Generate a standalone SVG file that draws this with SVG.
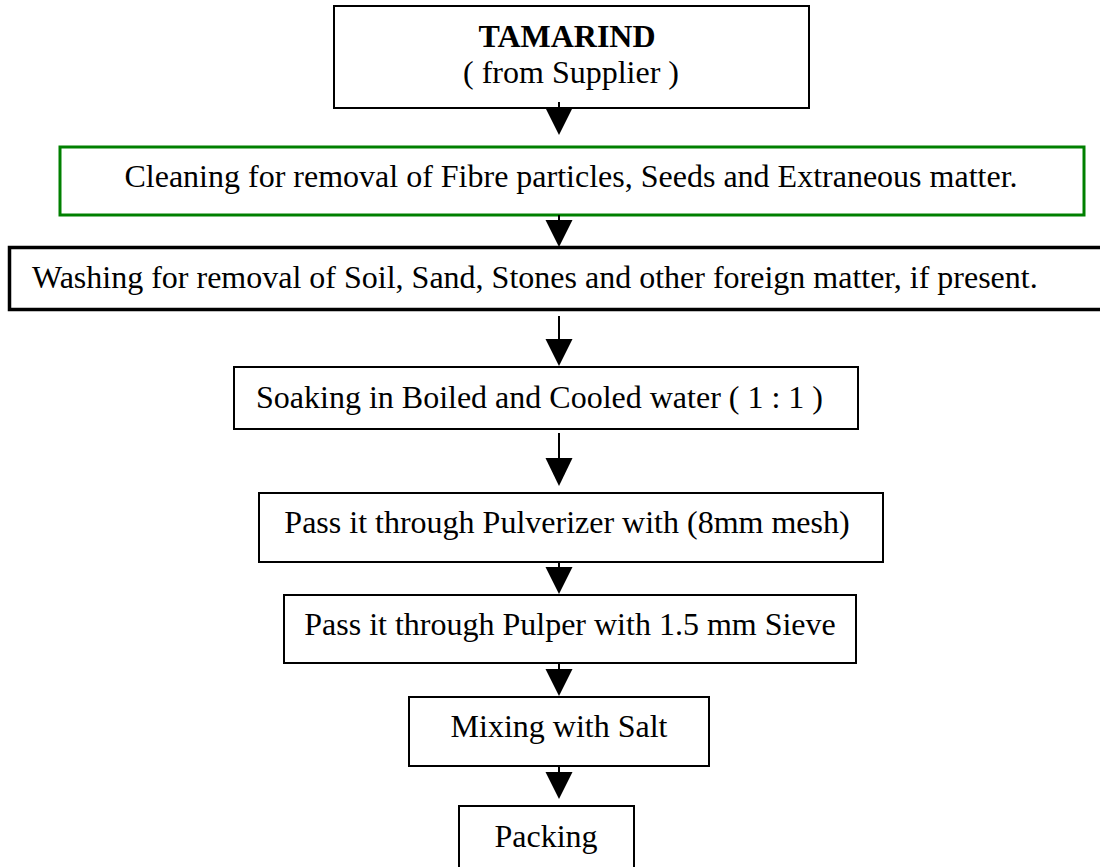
<svg xmlns="http://www.w3.org/2000/svg" width="1100" height="867" viewBox="0 0 1100 867">
<style>
.box{fill:#fff;stroke:#000;stroke-width:2}
.t{font-family:"Liberation Serif","Times New Roman",serif;font-size:32px;fill:#000}
.c{text-anchor:middle}
.ln{stroke:#000;stroke-width:2;fill:none}
.hd{fill:#000}
</style>
<rect width="1100" height="867" fill="#fff"/>
<g id="n1">
<rect class="box" x="334" y="6" width="475" height="102"/>
<text class="t c" x="567" y="47" font-weight="bold">TAMARIND</text>
<text class="t c" x="571" y="83">( from Supplier )</text>
</g>
<g id="n2">
<rect class="box" x="60" y="147" width="1024" height="68" style="stroke:#008000;stroke-width:3"/>
<text class="t c" x="571" y="187">Cleaning for removal of Fibre particles, Seeds and Extraneous matter.</text>
</g>
<g id="n3">
<rect class="box" x="9.5" y="247.5" width="1100" height="62" style="stroke-width:3.5"/>
<text class="t" x="32" y="288">Washing for removal of Soil, Sand, Stones and other foreign matter, if present.</text>
</g>
<g id="n4">
<rect class="box" x="234" y="367" width="624" height="62"/>
<text class="t" x="256" y="408">Soaking in Boiled and Cooled water ( 1 : 1 )</text>
</g>
<g id="n5">
<rect class="box" x="259" y="493" width="624" height="69"/>
<text class="t c" x="567" y="533">Pass it through Pulverizer with (8mm mesh)</text>
</g>
<g id="n6">
<rect class="box" x="284" y="595" width="572" height="68"/>
<text class="t c" x="570" y="635">Pass it through Pulper with 1.5 mm Sieve</text>
</g>
<g id="n7">
<rect class="box" x="409" y="697" width="300" height="69"/>
<text class="t c" x="559" y="737">Mixing with Salt</text>
</g>
<g id="n8">
<rect class="box" x="459" y="806" width="175" height="75"/>
<text class="t c" x="546" y="847">Packing</text>
</g>
<g id="connectors">
<line class="ln" x1="559" y1="102" x2="559" y2="110"/>
<polygon class="hd" points="545.5,108 572.5,108 559,135"/>
<line class="ln" x1="559" y1="215" x2="559" y2="222"/>
<polygon class="hd" points="545.5,220 572.5,220 559,247"/>
<line class="ln" x1="559" y1="316" x2="559" y2="341"/>
<polygon class="hd" points="545.5,339 572.5,339 559,366"/>
<line class="ln" x1="559" y1="433" x2="559" y2="460"/>
<polygon class="hd" points="545.5,458 572.5,458 559,486"/>
<line class="ln" x1="559" y1="562" x2="559" y2="569"/>
<polygon class="hd" points="545.5,567 572.5,567 559,594"/>
<line class="ln" x1="559" y1="663" x2="559" y2="671"/>
<polygon class="hd" points="545.5,669 572.5,669 559,696"/>
<line class="ln" x1="559" y1="766" x2="559" y2="774"/>
<polygon class="hd" points="545.5,772 572.5,772 559,799"/>
</g>
</svg>
